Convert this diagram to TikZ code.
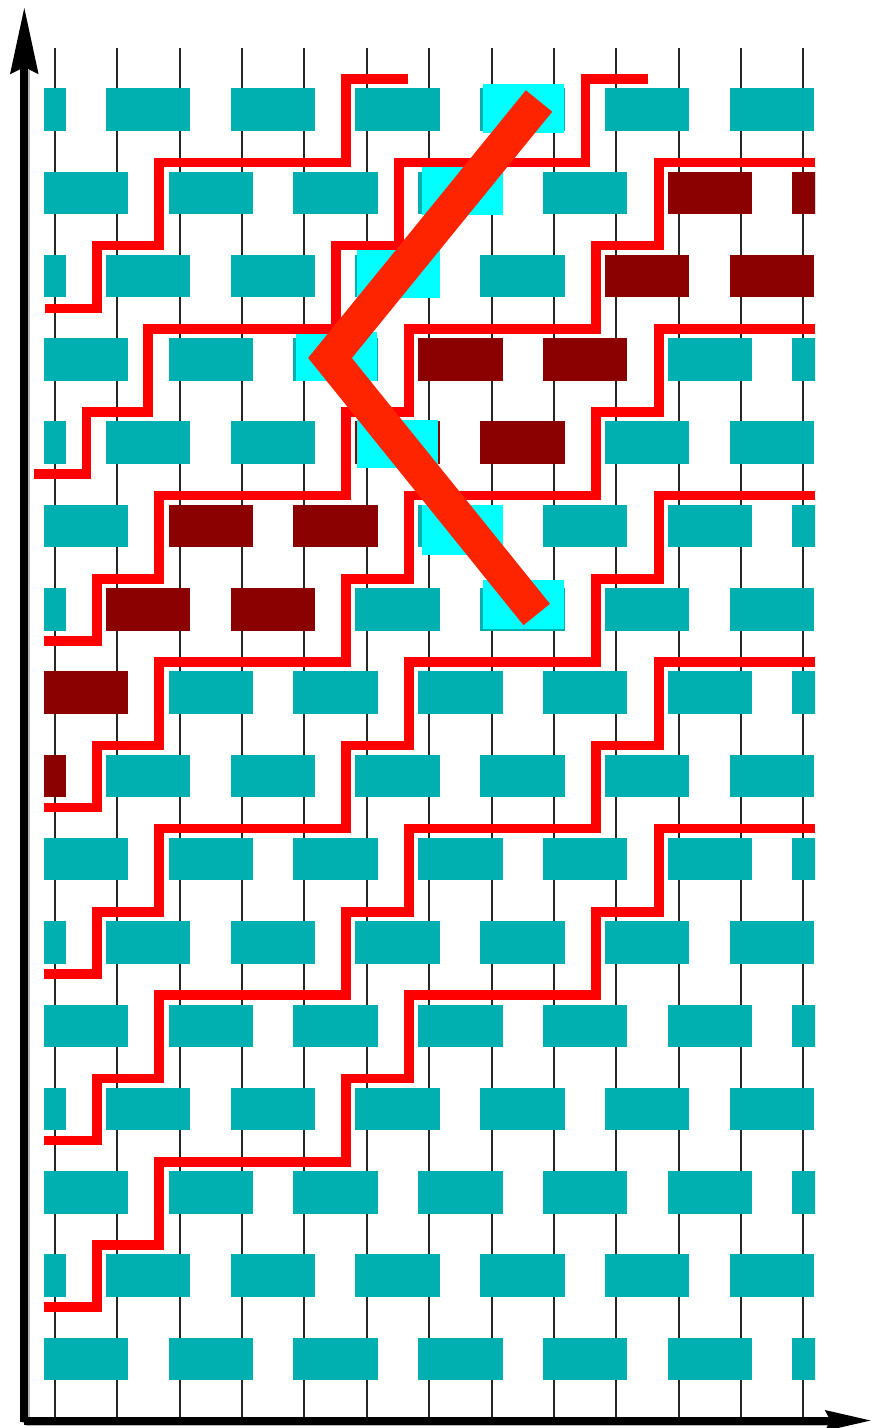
\documentclass[tikz,border=0pt]{standalone}
\usetikzlibrary{arrows.meta}
\definecolor{brickteal}{RGB}{0,176,176}
\definecolor{brickdark}{RGB}{139,0,0}
\definecolor{brickcyan}{RGB}{0,255,255}
\definecolor{stairred}{RGB}{255,0,0}
\definecolor{bigred}{RGB}{255,36,0}
\newcommand\mybrick[3]{%
  \pgfmathsetmacro\mybt{88.3+83.29*#1}%
  \pgfmathsetmacro\mybl{ifthenelse(mod(#1,2)==0,-18.7,44)+124.72*#2}%
  \fill[#3] (\mybl,\mybt) rectangle ++(84.4,42.5);%
}
\begin{document}
\begin{tikzpicture}[x=1pt,y=-1pt,
  gridline/.style={draw=black!85,line width=2pt},
  stairline/.style={draw=stairred,line width=9.6pt,line join=miter,line cap=butt},
  bigline/.style={draw=bigred,line width=34pt,line join=miter,line cap=butt},
  axisline/.style={draw=black,line width=8pt,line cap=butt},
  axisshadow/.style={draw=black!30,line width=8pt,line cap=butt}]
\useasboundingbox (0,0) rectangle (873,1428);

% vertical grid lines
\foreach \k in {0,...,12}
  \draw[gridline] ({55+62.36*\k},48) -- ({55+62.36*\k},1417);

% bricks
\begin{scope}
  \clip (44,0) rectangle (815,1428);
  \foreach \i in {0,...,15}
    \foreach \j in {0,...,6}
      \mybrick{\i}{\j}{brickteal};
  \mybrick{1}{5}{brickdark}
  \mybrick{1}{6}{brickdark}
  \mybrick{2}{5}{brickdark}
  \mybrick{2}{6}{brickdark}
  \mybrick{3}{3}{brickdark}
  \mybrick{3}{4}{brickdark}
  \mybrick{4}{3}{brickdark}
  \mybrick{4}{4}{brickdark}
  \mybrick{5}{1}{brickdark}
  \mybrick{5}{2}{brickdark}
  \mybrick{6}{1}{brickdark}
  \mybrick{6}{2}{brickdark}
  \mybrick{7}{0}{brickdark}
  \mybrick{8}{0}{brickdark}
\end{scope}

% highlighted (cyan) bricks
\fill[brickcyan] (483,84) rectangle (564.3,132.5);
\fill[brickcyan] (421.7,164) rectangle (502.7,215);
\fill[brickcyan] (356.7,249) rectangle (440,297.7);
\fill[brickcyan] (296,332) rectangle (377,380.7);
\fill[brickcyan] (356.7,420) rectangle (437.7,468);
\fill[brickcyan] (421.7,505) rectangle (502.7,555);
\fill[brickcyan] (483.3,580) rectangle (564,628.5);

% red staircase lines
\draw[stairline] (44.5,308.3) -| (97,245.6) -| (159,162.3) -| (346,79) -- (408.3,79);
\draw[stairline] (34.3,474.2) -| (86.5,412.2) -| (148,328.9) -| (336,245.6) -| (399,162.3) -| (585.5,79) -- (647.7,79);
\draw[stairline] (44,640.7) -| (97,578.7) -| (159,495.5) -| (346,412.2) -| (409,328.9) -| (596,245.6) -| (659,162.3) -- (815,162.3);
\draw[stairline] (44,807.3) -| (97,745.3) -| (159,662) -| (346,578.7) -| (409,495.5) -| (596,412.2) -| (659,328.9) -- (815,328.9);
\draw[stairline] (44,973.9) -| (97,911.9) -| (159,828.6) -| (346,745.3) -| (409,662) -| (596,578.7) -| (659,495.5) -- (815,495.5);
\draw[stairline] (44,1140.5) -| (97,1078.5) -| (159,995.2) -| (346,911.9) -| (409,828.6) -| (596,745.3) -| (659,662) -- (815,662);
\draw[stairline] (44,1307) -| (97,1245) -| (159,1161.8) -| (346,1078.5) -| (409,995.2) -| (596,911.9) -| (659,828.6) -- (815,828.6);

% thick bent line
\draw[bigline] (539,101) -- (330,358) -- (536.7,614.5);

% axes (with faint shadow)
\draw[axisshadow] (25.8,1423) -- (25.8,70);
\draw[axisshadow] (25.5,1422) -- (828,1422);
\draw[axisline,-{Stealth[length=66pt,width=27pt,inset=6pt]}] (24.3,1421.7) -- (24.3,7);
\draw[axisline,-{Stealth[length=46pt,width=19pt,inset=4pt]}] (24,1420.5) -- (872.5,1420.5);
\end{tikzpicture}
\end{document}
